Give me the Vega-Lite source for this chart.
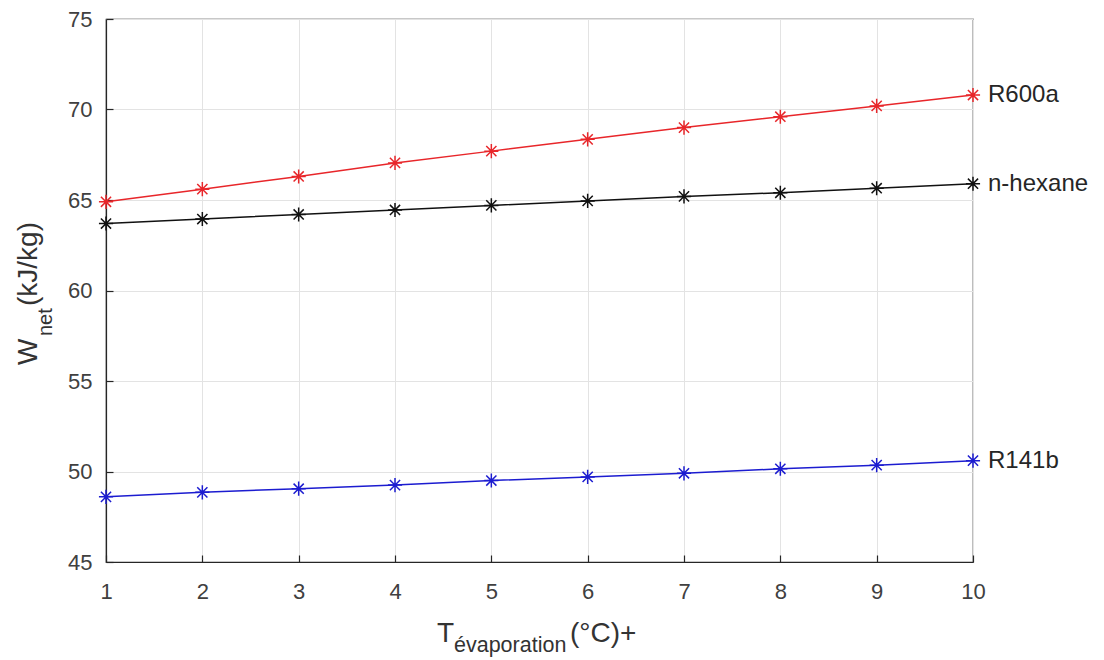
{
  "$schema": "https://vega.github.io/schema/vega-lite/v6.json",
  "autosize": "none",
  "width": 867,
  "height": 543,
  "padding": {"left": 106, "top": 19, "right": 131, "bottom": 98},
  "background": "white",
  "config": {
    "view": {"stroke": "#262626", "strokeWidth": 1.2},
    "axis": {
      "labelFont": "Liberation Sans",
      "labelFontSize": 22,
      "labelColor": "#404040",
      "labelFlush": false,
      "domainColor": "#262626",
      "domainWidth": 1.2,
      "tickColor": "#262626",
      "tickSize": -7,
      "tickWidth": 1.2,
      "gridColor": "#e3e3e3",
      "gridWidth": 1,
      "title": null
    }
  },
  "data": {
    "values": [
      {"x": 1, "W": 64.9, "fluid": "R600a"},
      {"x": 2, "W": 65.6, "fluid": "R600a"},
      {"x": 3, "W": 66.3, "fluid": "R600a"},
      {"x": 4, "W": 67.05, "fluid": "R600a"},
      {"x": 5, "W": 67.7, "fluid": "R600a"},
      {"x": 6, "W": 68.35, "fluid": "R600a"},
      {"x": 7, "W": 69.0, "fluid": "R600a"},
      {"x": 8, "W": 69.6, "fluid": "R600a"},
      {"x": 9, "W": 70.2, "fluid": "R600a"},
      {"x": 10, "W": 70.8, "fluid": "R600a"},
      {"x": 1, "W": 63.7, "fluid": "n-hexane"},
      {"x": 2, "W": 63.95, "fluid": "n-hexane"},
      {"x": 3, "W": 64.2, "fluid": "n-hexane"},
      {"x": 4, "W": 64.45, "fluid": "n-hexane"},
      {"x": 5, "W": 64.7, "fluid": "n-hexane"},
      {"x": 6, "W": 64.95, "fluid": "n-hexane"},
      {"x": 7, "W": 65.2, "fluid": "n-hexane"},
      {"x": 8, "W": 65.4, "fluid": "n-hexane"},
      {"x": 9, "W": 65.65, "fluid": "n-hexane"},
      {"x": 10, "W": 65.9, "fluid": "n-hexane"},
      {"x": 1, "W": 48.6, "fluid": "R141b"},
      {"x": 2, "W": 48.85, "fluid": "R141b"},
      {"x": 3, "W": 49.05, "fluid": "R141b"},
      {"x": 4, "W": 49.25, "fluid": "R141b"},
      {"x": 5, "W": 49.5, "fluid": "R141b"},
      {"x": 6, "W": 49.7, "fluid": "R141b"},
      {"x": 7, "W": 49.9, "fluid": "R141b"},
      {"x": 8, "W": 50.15, "fluid": "R141b"},
      {"x": 9, "W": 50.35, "fluid": "R141b"},
      {"x": 10, "W": 50.6, "fluid": "R141b"}
    ]
  },
  "encoding": {
    "x": {
      "field": "x",
      "type": "quantitative",
      "scale": {"domain": [1, 10], "nice": false, "zero": false},
      "axis": {"values": [1, 2, 3, 4, 5, 6, 7, 8, 9, 10], "labelPadding": 26, "grid": true}
    },
    "y": {
      "field": "W",
      "type": "quantitative",
      "scale": {"domain": [45, 75], "nice": false, "zero": false},
      "axis": {"values": [45, 50, 55, 60, 65, 70, 75], "labelPadding": 21, "grid": true}
    }
  },
  "layer": [
    {
      "mark": {"type": "line", "strokeWidth": 1.5},
      "encoding": {
        "color": {
          "field": "fluid",
          "type": "nominal",
          "scale": {"domain": ["R600a", "n-hexane", "R141b"], "range": ["#e8262a", "#111111", "#1c1cd0"]},
          "legend": null
        }
      }
    },
    {
      "mark": {
        "type": "point",
        "shape": "M-1,0L1,0M0,-1L0,1M-0.72,-0.72L0.72,0.72M-0.72,0.72L0.72,-0.72",
        "filled": false,
        "size": 200,
        "strokeWidth": 1.5,
        "opacity": 1
      },
      "encoding": {
        "color": {
          "field": "fluid",
          "type": "nominal",
          "scale": {"domain": ["R600a", "n-hexane", "R141b"], "range": ["#e8262a", "#111111", "#1c1cd0"]},
          "legend": null
        }
      }
    },
    {
      "transform": [{"filter": "datum.x == 10"}],
      "mark": {"type": "text", "align": "left", "baseline": "middle", "dx": 15, "font": "Liberation Sans", "fontSize": 24, "color": "#262626"},
      "encoding": {"text": {"field": "fluid"}}
    },
    {
      "transform": [{"filter": "datum.x == 1 && datum.fluid == 'R600a'"}],
      "mark": {"type": "text", "angle": 270, "align": "left", "baseline": "alphabetic", "dx": 197, "dy": -69, "font": "Liberation Sans", "fontSize": 28, "color": "#333333"},
      "encoding": {"x": {"datum": 1}, "y": {"datum": 45}, "text": {"value": "W"}}
    },
    {
      "transform": [{"filter": "datum.x == 1 && datum.fluid == 'R600a'"}],
      "mark": {"type": "text", "angle": 270, "align": "left", "baseline": "alphabetic", "dx": 226, "dy": -54, "font": "Liberation Sans", "fontSize": 20, "color": "#333333"},
      "encoding": {"x": {"datum": 1}, "y": {"datum": 45}, "text": {"value": "net"}}
    },
    {
      "transform": [{"filter": "datum.x == 1 && datum.fluid == 'R600a'"}],
      "mark": {"type": "text", "angle": 270, "align": "left", "baseline": "alphabetic", "dx": 256, "dy": -69, "font": "Liberation Sans", "fontSize": 28, "color": "#333333"},
      "encoding": {"x": {"datum": 1}, "y": {"datum": 45}, "text": {"value": "(kJ/kg)"}}
    },
    {
      "transform": [{"filter": "datum.x == 1 && datum.fluid == 'R600a'"}],
      "mark": {"type": "text", "align": "left", "baseline": "alphabetic", "dx": 331, "dy": 80, "font": "Liberation Sans", "fontSize": 28, "color": "#333333"},
      "encoding": {"x": {"datum": 1}, "y": {"datum": 45}, "text": {"value": "T"}}
    },
    {
      "transform": [{"filter": "datum.x == 1 && datum.fluid == 'R600a'"}],
      "mark": {"type": "text", "align": "left", "baseline": "alphabetic", "dx": 348, "dy": 90, "font": "Liberation Sans", "fontSize": 21.5, "color": "#333333"},
      "encoding": {"x": {"datum": 1}, "y": {"datum": 45}, "text": {"value": "évaporation"}}
    },
    {
      "transform": [{"filter": "datum.x == 1 && datum.fluid == 'R600a'"}],
      "mark": {"type": "text", "align": "left", "baseline": "alphabetic", "dx": 464, "dy": 80, "font": "Liberation Sans", "fontSize": 28, "color": "#333333"},
      "encoding": {"x": {"datum": 1}, "y": {"datum": 45}, "text": {"value": "(°C)+"}}
    }
  ]
}
